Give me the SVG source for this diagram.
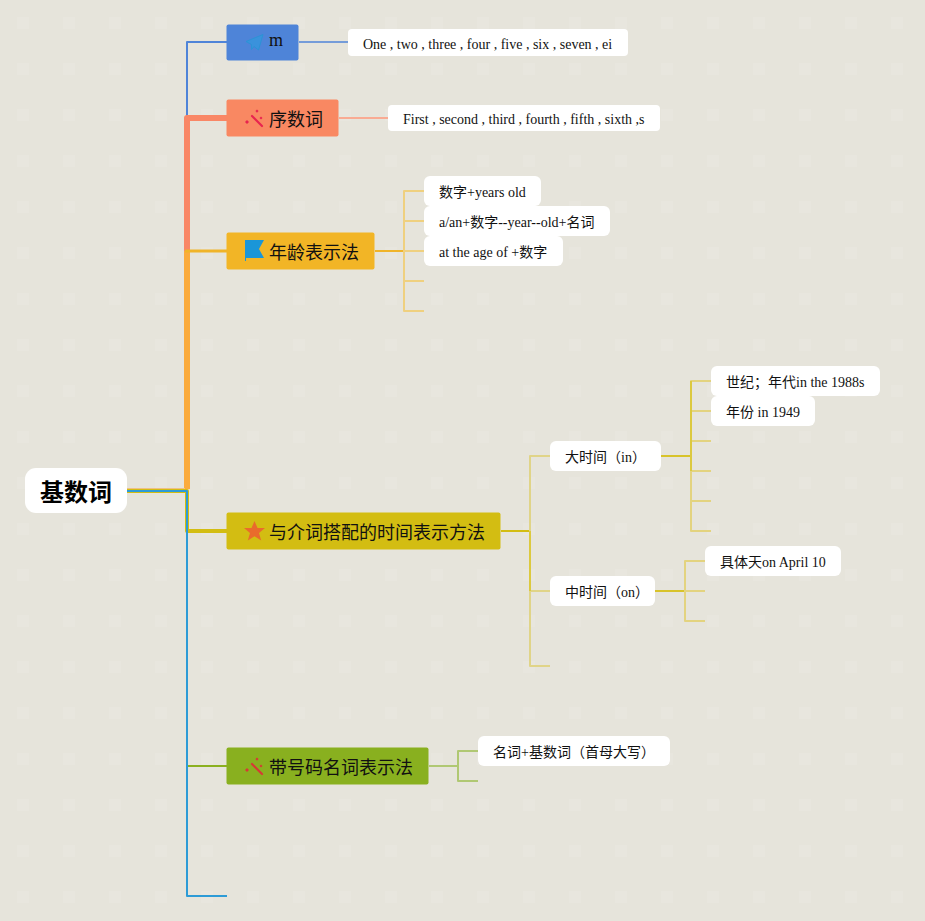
<svg xmlns="http://www.w3.org/2000/svg" width="925" height="921" viewBox="0 0 925 921">
<style>
text{font-family:"Liberation Serif","Noto Sans CJK SC",serif;fill:#111}
.t{font-size:18px}
.s{font-size:14px}
.c{fill:none;stroke-linejoin:round}
.w{fill:#fff}
</style>
<defs>
<pattern id="bg" width="46" height="46" patternUnits="userSpaceOnUse"><rect width="46" height="46" fill="#e6e4db"/><rect x="17" y="17" width="12" height="12" fill="#e8e6de"/></pattern>
<g id="wand"><path d="M7 7 L17 17" stroke-width="2.200" stroke-linecap="round" fill="none"/><path d="M2 11l2 2-2 2-2-2zM12 0.500l1.600 1.600-1.600 1.600-1.600-1.600zM16 7.500l1.500 1.500-1.500 1.500-1.500-1.500z" stroke="none"/></g>
</defs>
<rect width="925" height="921" fill="url(#bg)"/>
<g id="connectors">
<path class="c" d="M187 118V42H227" stroke="#4f84d8" stroke-width="2"/>
<path class="c" d="M187 251V118H227" stroke="#f98766" stroke-width="6" stroke-linejoin="miter"/>
<path class="c" d="M187 489V251" stroke="#fbab3c" stroke-width="6"/>
<path class="c" d="M127 489H185" stroke="#efc184" stroke-width="2"/>
<path class="c" d="M185 251H227" stroke="#f0b429" stroke-width="3"/>
<path class="c" d="M127 491H187V531H227" stroke="#d3bd12" stroke-width="4" stroke-linejoin="miter"/>
<path class="c" d="M187 766H227" stroke="#8bb020" stroke-width="2"/>
<path class="c" d="M127 491H187V896H227" stroke="#2d9bd6" stroke-width="2"/>
<path class="c" d="M299 42H348" stroke="#4f84d8" stroke-width="1.500"/>
<path class="c" d="M339 118H388" stroke="#f9ab93" stroke-width="2"/>
<path class="c" d="M375 251H404" stroke="#f0b429" stroke-width="2"/>
<path class="c" d="M424 191H404V311H424M404 221H424M404 251H424M404 281H424" stroke="#efd07f" stroke-width="2"/>
<path class="c" d="M501 531H530" stroke="#d3bd12" stroke-width="2"/>
<path class="c" d="M550 456H530V666H550M530 591H550" stroke="#e0d488" stroke-width="2"/>
<path class="c" d="M530 531V591" stroke="#dcc93f" stroke-width="2"/>
<path class="c" d="M661 456H691" stroke="#d8c32a" stroke-width="2"/>
<path class="c" d="M711 381H691V531H711M691 411H711M691 441H711M691 471H711M691 501H711" stroke="#e3d37f" stroke-width="2"/>
<path class="c" d="M691 381V471" stroke="#dcc93f" stroke-width="2"/>
<path class="c" d="M655 591H685" stroke="#d8c32a" stroke-width="2"/>
<path class="c" d="M705 561H685V621H705M685 591H705" stroke="#e3d37f" stroke-width="2"/>
<path class="c" d="M429 766H458" stroke="#b0c873" stroke-width="2"/>
<path class="c" d="M478 751H458V781H478" stroke="#b0c873" stroke-width="2"/>
</g>
<g id="root"><rect class="w" x="25" y="468" width="102" height="45" rx="11"/><text x="40" y="501" font-size="24" font-weight="700" style="fill:#000">基数词</text></g>
<g id="topic-m"><rect x="226.500" y="24.500" width="72" height="36" rx="2" fill="#4e84d8"/><path d="M246 41.500 L263 34.500 L258.500 50 L254 46.500 L251.500 49.500 L251.500 44.500Z" fill="#3a92dc" stroke="#2b93d6" stroke-linejoin="round"/><text x="269" y="46" font-size="18">m</text></g>
<g id="leaf-m"><rect class="w" x="348" y="29" width="280" height="27" rx="4"/><text class="s" x="363" y="49">One , two , three , four , five , six , seven , ei</text></g>
<g id="topic-ordinal"><rect x="226.500" y="99.500" width="112" height="37" rx="2" fill="#f98862"/><use href="#wand" x="245" y="109" fill="#e8244f" stroke="#e8244f"/><text class="t" x="269" y="126">序数词</text></g>
<g id="leaf-ordinal"><rect class="w" x="388" y="105" width="272" height="26" rx="4"/><text class="s" x="403" y="124">First , second , third , fourth , fifth , sixth ,s</text></g>
<g id="topic-age"><rect x="226.500" y="232.500" width="148" height="37" rx="2" fill="#f2b526"/><path d="M245 240H264L259 249L264 258H246V261H245Z" fill="#1a96d8"/><text class="t" x="269" y="259">年龄表示法</text></g>
<g id="leaf-age1"><rect class="w" x="424" y="176" width="117" height="30" rx="6"/><text class="s" x="439" y="197">数字+years old</text></g>
<g id="leaf-age2"><rect class="w" x="424" y="206" width="186" height="30" rx="6"/><text class="s" x="439" y="227">a/an+数字--year--old+名词</text></g>
<g id="leaf-age3"><rect class="w" x="424" y="236" width="139" height="30" rx="6"/><text class="s" x="439" y="257">at the age of +数字</text></g>
<g id="topic-time"><rect x="226.500" y="512.500" width="274" height="37" rx="2" fill="#d3bd12"/><path d="M254.500 521l3 7h7.500l-6 5 2.200 7.500-6.700-4.200-6.700 4.200 2.200-7.500-6-5h7.500z" fill="#e96b2c"/><text class="t" x="269" y="539">与介词搭配的时间表示方法</text></g>
<g id="node-big"><rect class="w" x="550" y="441" width="111" height="30" rx="6"/><text class="s" x="565" y="462">大时间（in）</text></g>
<g id="node-mid"><rect class="w" x="550" y="576" width="105" height="30" rx="6"/><text class="s" x="565" y="597">中时间（on）</text></g>
<g id="leaf-century"><rect class="w" x="711" y="366" width="169" height="30" rx="6"/><text class="s" x="726" y="387">世纪；年代in the 1988s</text></g>
<g id="leaf-year"><rect class="w" x="711" y="396" width="104" height="30" rx="6"/><text class="s" x="726" y="417">年份 in 1949</text></g>
<g id="leaf-day"><rect class="w" x="705" y="546" width="136" height="30" rx="6"/><text class="s" x="720" y="567">具体天on April 10</text></g>
<g id="topic-number"><rect x="226.500" y="747.500" width="202" height="37" rx="2" fill="#89b01f"/><use href="#wand" x="245" y="757" fill="#d63a35" stroke="#d63a35"/><text class="t" x="269" y="774">带号码名词表示法</text></g>
<g id="leaf-number"><rect class="w" x="478" y="736" width="192" height="30" rx="6"/><text class="s" x="493" y="757">名词+基数词（首母大写）</text></g>
</svg>
